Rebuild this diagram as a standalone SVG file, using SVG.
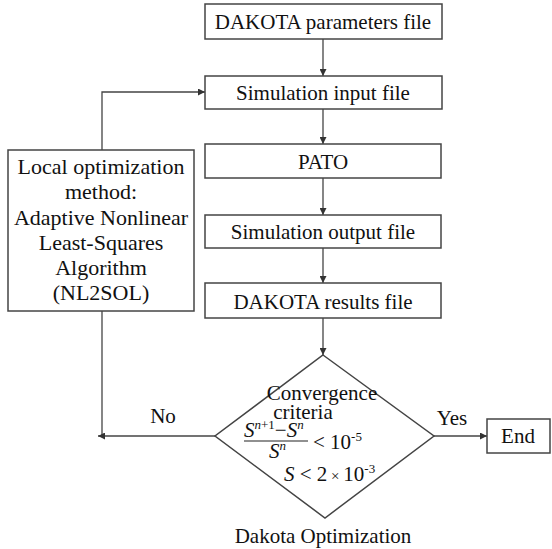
<svg xmlns="http://www.w3.org/2000/svg" width="552" height="549" viewBox="0 0 552 549">
<defs>
<style>
.box{fill:#fff;stroke:#444;stroke-width:1.5}
.t{font-family:"Liberation Serif","Times New Roman",serif;font-size:21px;fill:#111;text-anchor:middle}
.l{font-family:"Liberation Serif","Times New Roman",serif;font-size:22px;fill:#111;text-anchor:middle}
.m{font-family:"Liberation Serif","Times New Roman",serif;font-size:21px;fill:#111}
.c{fill:none;stroke:#444;stroke-width:1.3}
</style>
<marker id="ah" viewBox="0 0 10 10" refX="10" refY="5" markerWidth="7" markerHeight="7" markerUnits="userSpaceOnUse" orient="auto">
<path d="M0,0 L10,5 L0,10 z" fill="#333"/>
</marker>
</defs>
<rect width="552" height="549" fill="#fff"/>
<g id="connectors">
<line class="c" x1="323" y1="39" x2="323" y2="76" marker-end="url(#ah)"/>
<line class="c" x1="323" y1="109" x2="323" y2="144" marker-end="url(#ah)"/>
<line class="c" x1="323" y1="178" x2="323" y2="215" marker-end="url(#ah)"/>
<line class="c" x1="323" y1="248" x2="323" y2="283" marker-end="url(#ah)"/>
<line class="c" x1="323" y1="318" x2="323" y2="355" marker-end="url(#ah)"/>
<polyline class="c" points="102,150 102,92 205,92" marker-end="url(#ah)"/>
<line class="c" x1="102" y1="311" x2="102" y2="436"/>
<line class="c" x1="215" y1="436" x2="98" y2="436" marker-end="url(#ah)"/>
<line class="c" x1="434" y1="436" x2="487" y2="436" marker-end="url(#ah)"/>
<text class="t" x="163" y="423">No</text>
<text class="t" x="452" y="425">Yes</text>
</g>
<g id="n1"><rect class="box" x="205" y="4" width="237" height="35"/><text class="t" x="323" y="29">DAKOTA parameters file</text></g>
<g id="n2"><rect class="box" x="205" y="76" width="237" height="33"/><text class="t" x="323" y="100">Simulation input file</text></g>
<g id="n3"><rect class="box" x="205" y="144" width="236" height="34"/><text class="t" x="323" y="169">PATO</text></g>
<g id="n4"><rect class="box" x="205" y="215" width="236" height="33"/><text class="t" x="323" y="239">Simulation output file</text></g>
<g id="n5"><rect class="box" x="205" y="283" width="236" height="35"/><text class="t" x="323" y="309">DAKOTA results file</text></g>
<g id="n6"><rect class="box" x="8" y="150" width="186" height="161"/>
<text class="l" x="101" y="174">Local optimization</text>
<text class="l" x="101" y="199">method:</text>
<text class="l" x="101" y="225">Adaptive Nonlinear</text>
<text class="l" x="101" y="250">Least-Squares</text>
<text class="l" x="101" y="275">Algorithm</text>
<text class="l" x="101" y="300">(NL2SOL)</text>
</g>
<g id="n7">
<polygon class="box" points="323,355 434,436 325,518 215,436"/>
<text class="t" x="322" y="400" font-size="20">Convergence</text>
<text class="t" x="303" y="419">criteria</text>
<text class="m" x="244" y="437"><tspan font-style="italic">S</tspan><tspan font-size="13" dy="-8" font-style="italic">n</tspan><tspan font-size="13">+1</tspan><tspan dy="8">−</tspan><tspan font-style="italic">S</tspan><tspan font-size="13" dy="-8" font-style="italic">n</tspan></text>
<line x1="244" y1="441" x2="308" y2="441" stroke="#222" stroke-width="1.2"/>
<text class="m" x="269" y="458"><tspan font-style="italic">S</tspan><tspan font-size="13" dy="-8" font-style="italic">n</tspan></text>
<text class="m" x="313" y="449">&lt; 10<tspan font-size="13" dy="-8">-5</tspan></text>
<text class="m" x="284" y="481"><tspan font-style="italic">S</tspan> &lt; 2<tspan font-size="15"> × </tspan>10<tspan font-size="13" dy="-8">-3</tspan></text>
</g>
<g id="n8"><rect class="box" x="487" y="419" width="63" height="34"/><text class="t" x="518" y="443">End</text></g>
<text class="t" x="323" y="543">Dakota Optimization</text>
</svg>
